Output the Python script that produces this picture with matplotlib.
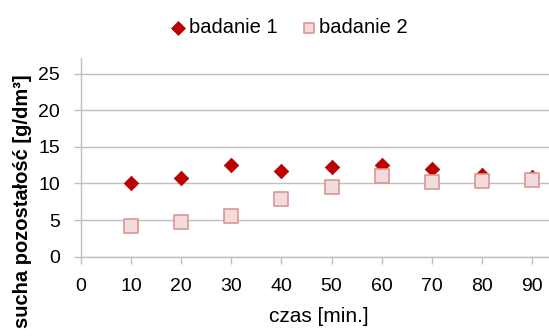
import matplotlib
matplotlib.use('Agg')
import matplotlib.pyplot as plt

plt.rcParams['font.family'] = ['Liberation Sans', 'DejaVu Sans']

czas = [10, 20, 30, 40, 50, 60, 70, 80, 90]
badanie1 = [10.0, 10.8, 12.55, 11.65, 12.3, 12.55, 11.95, 11.2, 10.9]
badanie2 = [4.2, 4.75, 5.6, 7.85, 9.5, 10.95, 10.15, 10.3, 10.4]
xticks = [0, 10, 20, 30, 40, 50, 60, 70, 80, 90]
yticks = [0, 5, 10, 15, 20, 25]

fig = plt.figure(figsize=(5.49, 3.36), dpi=100)
ax = fig.add_axes([0.1475, 0.236, 0.8525, 0.591])

grid_col = '#BFBFBF'
ax.scatter(czas, badanie1, marker='D', s=55, color='#C00000', edgecolor='#A00000',
           linewidth=0.5, zorder=3, label='badanie 1')
ax.scatter(czas, badanie2, marker='s', s=88, color='#F2DCDB', edgecolor='#D99694',
           linewidth=1.2, zorder=4, label='badanie 2')

ax.set_xlim(0, 93.4)
ax.set_ylim(0, 27.1)
ax.set_xticks(xticks)
ax.set_yticks(yticks)
ax.yaxis.grid(True, color=grid_col, linewidth=1)
ax.set_axisbelow(True)
for s in ['top', 'right']:
    ax.spines[s].set_visible(False)
for s in ['left', 'bottom']:
    ax.spines[s].set_color(grid_col)
    ax.spines[s].set_linewidth(1)
ax.tick_params(axis='both', colors=grid_col, labelcolor='black', labelsize=14,
               length=5, width=1, direction='out')
ax.tick_params(axis='x', pad=10)
ax.tick_params(axis='y', pad=10)
ax.set_xlabel('czas [min.]', fontsize=15)
ax.xaxis.set_label_coords(0.5085, -0.255)
ax.set_ylabel('sucha pozostałość [g/dm³]', fontsize=14.5, fontweight='bold')
ax.yaxis.set_label_coords(-0.105, 0.28)

leg = fig.legend(loc='upper center', bbox_to_anchor=(0.525, 1.0), ncol=2, frameon=False,
                 fontsize=14.5, handletextpad=0.0, columnspacing=1.1, handlelength=1.0)
leg.legend_handles[0].set_sizes([50])
leg.legend_handles[1].set_sizes([60])

fig.savefig('out.png', dpi=100)
